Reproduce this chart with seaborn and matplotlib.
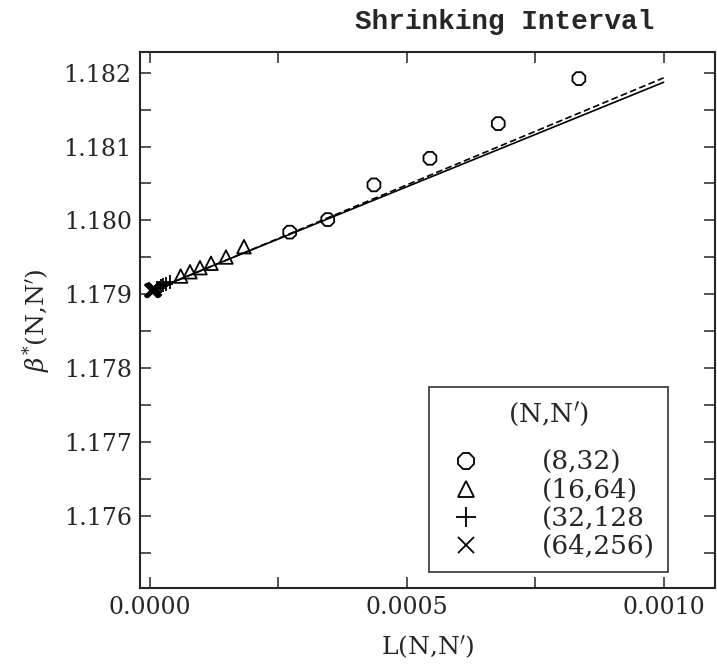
import numpy as np
import pandas as pd
import seaborn as sns
import matplotlib.pyplot as plt
from matplotlib.ticker import MultipleLocator
from matplotlib.lines import Line2D

# dati: L(N,N') e beta*(N,N')
L_8_32 = [0.000272, 0.000346, 0.000436, 0.000545, 0.000678, 0.000835]
b_8_32 = [1.17984, 1.18001, 1.18048, 1.18084, 1.18131, 1.18192]

L_16_64 = [0.0000597, 0.0000778, 0.0000973, 0.0001187, 0.0001479, 0.0001829]
b_16_64 = [1.179245, 1.179303, 1.179358, 1.179418, 1.179503, 1.179643]

L_32_128 = [0.0000128, 0.0000167, 0.0000209, 0.0000255, 0.0000318, 0.0000393]
b_32_128 = [1.17908, 1.17909, 1.17911, 1.17912, 1.17914, 1.17917]

L_64_256 = [0.0000028, 0.0000036, 0.0000045, 0.0000055, 0.0000069, 0.0000085]
b_64_256 = [1.17905, 1.17905, 1.17906, 1.17906, 1.17907, 1.17907]

# rette di fit
L_fit = [0.0, 0.0010]
b_fit_solid = [1.17904, 1.18187]
b_fit_dashed = [1.17903, 1.18193]

legend_labels = ["(8,32)", "(16,64)", "(32,128", "(64,256)"]

sns.set_style("ticks")
plt.rcParams['font.family'] = ['DejaVu Serif']
plt.rcParams['mathtext.fontset'] = 'dejavuserif'

fig = plt.figure(figsize=(7.17, 6.70), dpi=100)
ax = fig.add_axes([140/717, 1 - 588/670, 575/717, 536/670])

# rette
sns.lineplot(x=L_fit, y=b_fit_solid, ax=ax, color='black', lw=1.2)
sns.lineplot(x=L_fit, y=b_fit_dashed, ax=ax, color='black', lw=1.2, linestyle=(0, (4, 2)))

# punti
sns.scatterplot(x=L_8_32, y=b_8_32, ax=ax, marker='8', s=100,
                facecolor='none', edgecolor='black', linewidth=1.3)
sns.scatterplot(x=L_16_64, y=b_16_64, ax=ax, marker='^', s=95,
                facecolor='none', edgecolor='black', linewidth=1.3)
sns.scatterplot(x=L_32_128, y=b_32_128, ax=ax, marker='+', s=90,
                color='black', linewidth=1.3)
sns.scatterplot(x=L_64_256, y=b_64_256, ax=ax, marker='x', s=90,
                color='black', linewidth=2.4)

ax.set_xlim(-0.0000195, 0.0011)
ax.set_ylim(1.17502, 1.18228)

ax.xaxis.set_major_locator(MultipleLocator(0.0005))
ax.xaxis.set_minor_locator(MultipleLocator(0.00025))
ax.yaxis.set_major_locator(MultipleLocator(0.001))
ax.yaxis.set_minor_locator(MultipleLocator(0.0005))
ax.xaxis.set_major_formatter(plt.FormatStrFormatter('%.4f'))
ax.yaxis.set_major_formatter(plt.FormatStrFormatter('%.3f'))

ax.tick_params(which='both', direction='in', top=True, right=True,
               length=8, width=1.1, labelsize=17, pad=6)
for s in ax.spines.values():
    s.set_linewidth(1.5)

ax.set_xlabel("L(N,N$'$)", fontsize=18, labelpad=10)
ax.set_ylabel(r"$\beta^{*}$(N,N$'$)", fontsize=18, labelpad=8)

ax.text(0.895, 1.056, "Shrinking Interval", transform=ax.transAxes,
        ha='right', va='center', fontsize=20, fontweight='bold',
        family=['Liberation Mono'])

handles = [
    Line2D([], [], ls='none', marker='8', ms=12, mfc='none', mec='black', mew=1.3),
    Line2D([], [], ls='none', marker='^', ms=11, mfc='none', mec='black', mew=1.3),
    Line2D([], [], ls='none', marker='+', ms=14, mec='black', mew=1.3),
    Line2D([], [], ls='none', marker='x', ms=11, mec='black', mew=1.3),
]
leg = ax.legend(handles, legend_labels, title="(N,N$'$)\n", loc='lower right',
                bbox_to_anchor=(0.919, 0.029), borderaxespad=0, fontsize=19,
                title_fontsize=19, frameon=True, fancybox=False, edgecolor='black',
                handlelength=1.8, handletextpad=2.0, labelspacing=0.12,
                borderpad=0.5)
leg.get_frame().set_linewidth(1.2)
leg.get_title().set_linespacing(0.65)

fig.savefig("out.png", dpi=100)
